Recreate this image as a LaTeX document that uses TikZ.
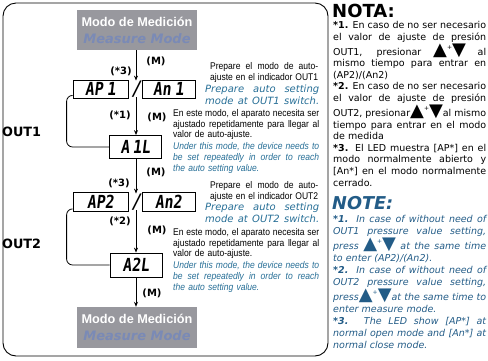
\documentclass[tikz,border=0pt]{standalone}
\usepackage{fontspec}
\setmainfont{DejaVu Sans}
\newfontfamily\tahfont[FakeStretch=0.88]{Liberation Sans}
\newfontfamily\titlefont{Liberation Sans}
\newfontfamily\lcdfont[FakeStretch=0.82,FakeSlant=0.12]{DejaVu Sans Mono}
\usepackage{xcolor}
\usetikzlibrary{arrows.meta,calc,positioning}
\definecolor{mgray}{RGB}{152,152,158}
\definecolor{mmblue}{RGB}{122,138,182}
\definecolor{flowblue}{RGB}{38,110,150}
\definecolor{noteblue}{RGB}{35,92,135}
\setlength{\parindent}{0pt}
\newlength{\jw}
\newcommand{\jl}[1]{\makebox[\jw][s]{\spaceskip=0pt\xspaceskip=0pt #1}}
\newcommand{\tri}[1]{\raisebox{0pt}[12pt][0pt]{\fontsize{18}{18}\selectfont #1}}
\newcommand{\updn}{\tri{▲}\raisebox{5.5pt}{\fontsize{6}{6}\selectfont +}\tri{▼}}

\begin{document}
\begin{tikzpicture}[x=1pt,y=-1pt,
  lcd/.style={draw,line width=0.8pt,fill=white,inner sep=0pt,minimum height=18pt,
              font=\lcdfont\bfseries\fontsize{18}{18}\selectfont},
  slashsym/.style={inner sep=0pt,font=\lcdfont\bfseries\fontsize{20}{20}\selectfont},
  mmode/.style={fill=mgray,minimum width=120pt,minimum height=40pt,inner sep=0pt,
                align=center,font=\fontsize{13}{17}\selectfont},
  lbl/.style={inner sep=0pt,font=\bfseries\fontsize{10}{10}\selectfont},
  outlbl/.style={inner sep=0pt,anchor=west,font=\bfseries\fontsize{12.8}{12.8}\selectfont},
  flowarrow/.style={line width=0.8pt,-{Stealth[length=5pt,width=4pt]}},
  backline/.style={line width=0.8pt,rounded corners=6pt},
  esflow/.style={anchor=base west,inner sep=0pt,align=left,text width=#1,
                 font=\setlength{\jw}{#1}\tahfont\fontsize{9.7}{10.5}\selectfont},
  enflow/.style={anchor=base west,inner sep=0pt,align=left,text=flowblue,text width=#1,
                 font=\setlength{\jw}{#1}\tahfont\itshape\fontsize{9.7}{11}\selectfont},
  enhead/.style={anchor=base west,inner sep=0pt,align=left,text=flowblue,text width=#1,
                 font=\setlength{\jw}{#1}\itshape\fontsize{10}{12}\selectfont},
  notees/.style={anchor=base west,inner sep=0pt,text width=153pt,align=left,
                 font=\setlength{\jw}{153pt}\fontsize{9.5}{11.6}\selectfont},
  noteen/.style={anchor=base west,inner sep=0pt,text width=153pt,align=left,text=noteblue,
                 font=\setlength{\jw}{153pt}\itshape\fontsize{9.5}{12}\selectfont}]
 \useasboundingbox (0,0) rectangle (488,360);
 \draw[line width=0.9pt,rounded corners=13pt] (3,3) rectangle (328,356);

 \node[mmode] (mtop) at (137,30)
   {{\color{white}\titlefont\bfseries\fontsize{12.7}{17}\selectfont Modo de Medición}\\
    {\color{mmblue}\bfseries\itshape Measure Mode}};
 \node[lcd,minimum width=55pt] (ap1) at (100.5,89) {AP\kern4pt1};
 \node[slashsym] (sl1) at (136,89) {/};
 \node[lcd,minimum width=53pt] (an1) at (168.5,89) {An\kern4pt1};
 \node[lcd,minimum width=52pt,minimum height=23pt] (a1l) at (135.5,147) {A\kern3pt1L};
 \node[lcd,minimum width=55pt,minimum height=19pt] (ap2) at (100.5,202) {AP2};
 \node[slashsym] (sl2) at (136,202) {/};
 \node[lcd,minimum width=53pt,minimum height=19pt] (an2) at (168.5,202) {An2};
 \node[lcd,minimum width=52pt,minimum height=24pt] (a2l) at (136,265) {A2L};
 \node[mmode,minimum height=41pt] (mbot) at (137,327.5)
   {{\color{white}\titlefont\bfseries\fontsize{12.7}{17}\selectfont Modo de Medición}\\
    {\color{mmblue}\bfseries\itshape Measure Mode}};

 \draw[flowarrow] (mtop.south -| sl1.north) -- (sl1.north);
 \draw[flowarrow] (sl1.south) -- (sl1.south |- a1l.north);
 \draw[flowarrow] (a1l.south -| sl2.north) -- (sl2.north);
 \draw[flowarrow] (sl2.south) -- (sl2.south |- a2l.north);
 \draw[flowarrow] (a2l.south -| sl2.south) -- (sl2.south |- mbot.north);
 \draw[backline] ($(ap1.south west)+(0,-3)$) -- ++(-6,0) |- (a1l.west);
 \draw[backline] ($(ap2.south west)+(0,-3)$) -- ++(-6,0) |- (a2l.west);

 \node[lbl] (m1) at (156,61) {(M)};
 \node[lbl] (c3a) at (121,71) {(*3)};
 \node[lbl] (c1) at (120,115) {(*1)};
 \node[lbl] (m2) at (157,117) {(M)};
 \node[lbl] (m3) at (156,172) {(M)};
 \node[lbl] (c3b) at (119,183) {(*3)};
 \node[lbl] (c2) at (120,221) {(*2)};
 \node[lbl] (m4) at (157,230) {(M)};
 \node[lbl] (m5) at (152,293) {(M)};
 \node[outlbl] (out1) at (2,132) {OUT1};
 \node[outlbl] (out2) at (2,244) {OUT2};

 \node[esflow=108pt] (es1) at (210,69.5)
   {\jl{Prepare el modo de auto-}\\ \jl{ajuste en el indicador OUT1}};
 \node[enhead=114pt] (en1) at (205,92)
   {\jl{Prepare auto setting}\\ \jl{mode at OUT1 switch.}};
 \node[esflow=146pt] (es2) at (173,116.5)
   {\jl{En este modo, el aparato necesita ser}\\ \jl{ajustado repetidamente para llegar al}\\ valor de auto-ajuste.};
 \node[enflow=146pt] (en2) at (173,149.5)
   {\jl{Under this mode, the device needs to}\\ \jl{be set repeatedly in order to reach}\\ the auto setting value.};
 \node[esflow=108pt] (es3) at (210,188.5)
   {\jl{Prepare el modo de auto-}\\ \jl{ajuste en el indicador OUT2}};
 \node[enhead=114pt] (en3) at (205,210.5)
   {\jl{Prepare auto setting}\\ \jl{mode at OUT2 switch.}};
 \node[esflow=146pt] (es4) at (173,235.5)
   {\jl{En este modo, el aparato necesita ser}\\ \jl{ajustado repetidamente para llegar al}\\ valor de auto-ajuste.};
 \node[enflow=146pt] (en4) at (173,268.5)
   {\jl{Under this mode, the device needs to}\\ \jl{be set repeatedly in order to reach}\\ the auto setting value.};

 \node[anchor=base west,inner sep=0pt,font=\bfseries\fontsize{18}{18}\selectfont] (nota) at (332,17) {NOTA:};
 \node[notees] (notaes) at (333,28.5)
   {\jl{\textbf{*1.} En caso de no ser necesario}\\
    \jl{el valor de ajuste de presión}\\
    \jl{OUT1, presionar \updn{} al}\\
    \jl{mismo tiempo para entrar en}\\
    (AP2)/(An2)\\
    \jl{\textbf{*2.} En caso de no ser necesario}\\
    \jl{el valor de ajuste de presión}\\
    \jl{OUT2, presionar\updn{}al mismo}\\
    \jl{tiempo para entrar en el modo}\\
    de medida\\
    \jl{\textbf{*3.} El LED muestra [AP*] en el}\\
    \jl{modo normalmente abierto y}\\
    \jl{[An*] en el modo normalmente}\\
    cerrado.};
 \node[anchor=base west,inner sep=0pt,text=noteblue,font=\bfseries\itshape\fontsize{17.7}{17.7}\selectfont] (note) at (332,209) {NOTE:};
 \node[noteen] (noteen) at (333,222.5)
   {\jl{\textbf{*1.} In case of without need of}\\
    \jl{OUT1 pressure value setting,}\\
    \jl{press \updn{} at the same time}\\
    to enter (AP2)/(An2).\\
    \jl{\textbf{*2.} In case of without need of}\\
    \jl{OUT2 pressure value setting,}\\
    \jl{press\updn{}at the same time to}\\
    enter measure mode.\\
    \jl{\textbf{*3.} The LED show [AP*] at}\\
    \jl{normal open mode and [An*] at}\\
    normal close mode.};
\end{tikzpicture}
\end{document}
